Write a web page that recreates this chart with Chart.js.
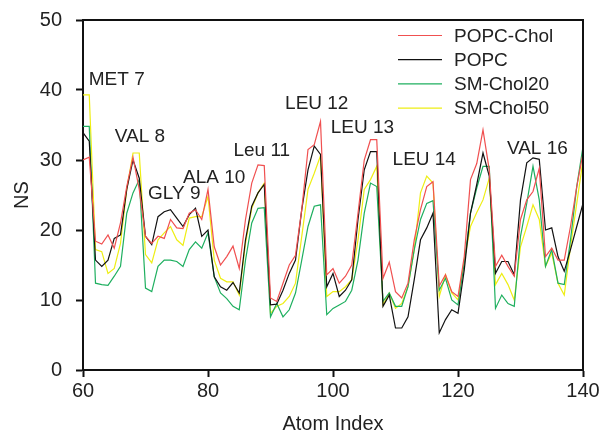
<!DOCTYPE html>
<html>
<head>
<meta charset="utf-8">
<script src="https://cdn.jsdelivr.net/npm/chart.js@4.4.1/dist/chart.umd.min.js"></script>
<style>
  html, body { margin: 0; padding: 0; background: #fff; }
</style>
</head>
<body>
<canvas id="nsChart" width="600" height="440"></canvas>
<script>
// atom index along the x axis
const atomIndex = [60, 61, 62, 63, 64, 65, 66, 67, 68, 69, 70, 71, 72, 73, 74, 75, 76, 77, 78, 79,
  80, 81, 82, 83, 84, 85, 86, 87, 88, 89, 90, 91, 92, 93, 94, 95, 96, 97, 98, 99,
  100, 101, 102, 103, 104, 105, 106, 107, 108, 109, 110, 111, 112, 113, 114, 115, 116, 117, 118, 119,
  120, 121, 122, 123, 124, 125, 126, 127, 128, 129, 130, 131, 132, 133, 134, 135, 136, 137, 138, 139, 140];

const popcChol = [30.0, 30.4, 18.4, 18.0, 19.3, 17.4, 21.0, 26.2, 30.4, 25.8, 19.1, 18.1, 19.1, 18.8, 21.5, 20.3, 20.2, 22.4, 22.9, 21.5,
  25.8, 17.6, 15.0, 16.2, 17.7, 14.5, 21.5, 26.7, 29.3, 29.2, 10.3, 9.8, 12.4, 15.0, 16.4, 22.9, 31.5, 32.2, 35.5, 13.6,
  14.5, 12.4, 13.4, 15.0, 22.4, 30.0, 32.9, 32.9, 13.1, 15.4, 11.2, 10.3, 12.4, 18.6, 22.9, 26.2, 26.9, 12.0, 13.6, 11.2,
  10.5, 16.2, 27.2, 29.5, 34.3, 28.6, 14.8, 16.4, 14.8, 13.4, 21.5, 24.3, 25.5, 28.8, 16.2, 17.4, 15.7, 15.7, 20.5, 26.2, 31.0];

const popc = [33.9, 32.7, 15.7, 14.8, 15.7, 18.8, 19.3, 25.8, 30.0, 27.4, 19.1, 17.9, 21.9, 22.6, 22.9, 21.7, 20.5, 22.2, 23.1, 19.1,
  20.0, 13.3, 11.9, 11.4, 12.5, 11.0, 18.6, 23.4, 25.3, 26.5, 9.3, 9.4, 11.4, 13.8, 15.7, 22.9, 28.6, 32.0, 30.8, 11.9,
  13.8, 10.5, 11.4, 12.9, 21.5, 28.6, 31.2, 31.2, 9.1, 10.7, 6.0, 6.0, 7.6, 12.9, 18.6, 20.3, 22.4, 5.3, 7.2, 8.6,
  8.1, 14.3, 22.4, 26.5, 31.0, 27.7, 13.8, 15.5, 15.5, 13.6, 24.3, 29.6, 30.3, 30.1, 20.0, 20.3, 16.2, 14.1, 17.2, 20.5, 23.8];

const smChol20 = [34.8, 34.8, 12.4, 12.2, 12.1, 13.4, 14.8, 22.4, 25.3, 27.2, 11.7, 11.2, 14.8, 15.7, 15.7, 15.5, 14.8, 17.2, 18.3, 17.4,
  19.6, 13.3, 11.0, 10.2, 9.1, 8.6, 15.7, 21.0, 23.1, 23.2, 7.6, 9.5, 7.6, 8.6, 11.0, 15.7, 20.5, 23.4, 23.6, 7.9,
  8.8, 9.3, 9.8, 11.4, 15.7, 22.4, 26.7, 26.2, 9.8, 11.0, 9.1, 9.1, 11.9, 17.2, 21.5, 23.8, 24.2, 11.4, 13.1, 10.0,
  9.3, 15.3, 22.4, 26.0, 29.1, 29.1, 8.8, 10.7, 9.5, 9.1, 19.1, 23.8, 29.1, 24.3, 14.8, 17.2, 12.4, 12.2, 18.6, 26.2, 31.9];

const smChol50 = [39.3, 39.3, 17.2, 16.9, 13.8, 14.5, 18.1, 25.8, 31.0, 31.0, 16.5, 15.3, 18.6, 19.6, 20.5, 18.6, 17.8, 21.7, 21.9, 21.9,
  24.8, 15.7, 13.1, 12.6, 12.6, 10.7, 18.1, 23.1, 25.3, 26.7, 8.1, 9.1, 9.5, 10.5, 12.4, 19.1, 25.8, 28.1, 30.6, 10.5,
  11.2, 11.2, 11.9, 12.9, 18.6, 25.8, 27.2, 29.1, 9.3, 11.0, 8.8, 9.5, 11.9, 17.2, 25.3, 27.7, 26.7, 10.5, 13.6, 11.0,
  10.0, 15.7, 20.5, 22.5, 24.3, 27.4, 12.2, 13.8, 12.2, 10.0, 17.6, 20.5, 23.6, 21.5, 14.8, 16.7, 12.4, 10.7, 17.6, 23.8, 30.0];

// residue labels placed over the peaks (data coordinates)
const residueLabels = ['MET 7', 'VAL 8', 'GLY 9', 'ALA 10', 'Leu 11', 'LEU 12', 'LEU 13', 'LEU 14', 'VAL 16'];
const residueX = [65.4, 69.1, 74.6, 81.0, 88.6, 97.4, 104.7, 114.6, 132.7];
const residueY = [41.5, 33.3, 25.2, 27.5, 31.3, 38.0, 34.6, 30.0, 31.6];

const xTicks = [60, 80, 100, 120, 140];
const yTicks = [0, 10, 20, 30, 40, 50];

const FONT = '"Liberation Sans", Arial, sans-serif';
const TEXT = '#222';

function toPoints(values) {
  return atomIndex.map((a, i) => ({ x: a, y: values[i] }));
}

function series(label, values, color) {
  return {
    label: label,
    data: toPoints(values),
    borderColor: color,
    backgroundColor: color,
    borderWidth: 1.2,
    pointRadius: 0,
    tension: 0,
    fill: false
  };
}

// frame, residue labels and the in-plot legend
const decorations = {
  id: 'decorations',
  afterDatasetsDraw(chart) {
    const ctx = chart.ctx;
    const xs = chart.scales.x, ys = chart.scales.y;
    const area = chart.chartArea;
    ctx.save();

    ctx.font = '19px ' + FONT;
    ctx.fillStyle = TEXT;
    ctx.textAlign = 'center';
    ctx.textBaseline = 'middle';
    residueLabels.forEach((t, i) => {
      ctx.fillText(t, xs.getPixelForValue(residueX[i]), ys.getPixelForValue(residueY[i]));
    });

    // legend
    ctx.textAlign = 'left';
    chart.data.datasets.forEach((ds, i) => {
      const y = 35.5 + i * 24.2;
      ctx.strokeStyle = ds.borderColor;
      ctx.lineWidth = 1.2;
      ctx.beginPath();
      ctx.moveTo(398, y);
      ctx.lineTo(442, y);
      ctx.stroke();
      ctx.fillStyle = TEXT;
      ctx.fillText(ds.label, 454, y + 1);
    });

    // top and right sides of the box
    ctx.strokeStyle = '#111';
    ctx.lineWidth = 2;
    ctx.beginPath();
    ctx.moveTo(area.left, area.top);
    ctx.lineTo(area.right, area.top);
    ctx.lineTo(area.right, area.bottom);
    ctx.stroke();
    ctx.restore();
  }
};

const ctx = document.getElementById('nsChart').getContext('2d');
const chart = new Chart(ctx, {
  type: 'line',
  data: {
    datasets: [
      series('POPC-Chol', popcChol, 'rgb(240, 80, 80)'),
      series('POPC', popc, '#111111'),
      series('SM-Chol20', smChol20, 'rgb(30, 175, 95)'),
      series('SM-Chol50', smChol50, 'rgb(238, 238, 20)')
    ]
  },
  options: {
    responsive: false,
    animation: false,
    layout: { padding: { top: 20, right: 17, left: 0, bottom: 0 } },
    plugins: {
      legend: { display: false },
      tooltip: { enabled: false }
    },
    scales: {
      x: {
        type: 'linear',
        min: 60,
        max: 140,
        afterBuildTicks: s => { s.ticks = xTicks.map(v => ({ value: v })); },
        afterFit: s => { s.height = 70; s.paddingLeft = 0; s.paddingRight = 0; },
        border: { color: '#111', width: 2 },
        grid: { drawOnChartArea: false, tickLength: 7, tickColor: '#111', tickWidth: 2 },
        ticks: { color: TEXT, font: { family: FONT, size: 20 }, padding: 2, maxRotation: 0 },
        title: { display: true, text: 'Atom Index', color: TEXT, font: { family: FONT, size: 20 }, padding: { top: 6 } }
      },
      y: {
        min: 0,
        max: 50,
        afterBuildTicks: s => { s.ticks = yTicks.map(v => ({ value: v })); },
        afterFit: s => { s.width = 83; s.paddingTop = 0; s.paddingBottom = 0; },
        border: { color: '#111', width: 2 },
        grid: { drawOnChartArea: false, tickLength: 7, tickColor: '#111', tickWidth: 2 },
        ticks: { color: TEXT, font: { family: FONT, size: 20 }, padding: 14 },
        title: { display: true, text: 'NS', color: TEXT, font: { family: FONT, size: 20 }, padding: { top: 10, bottom: 4 } }
      }
    }
  },
  plugins: [decorations]
});
</script>
</body>
</html>
